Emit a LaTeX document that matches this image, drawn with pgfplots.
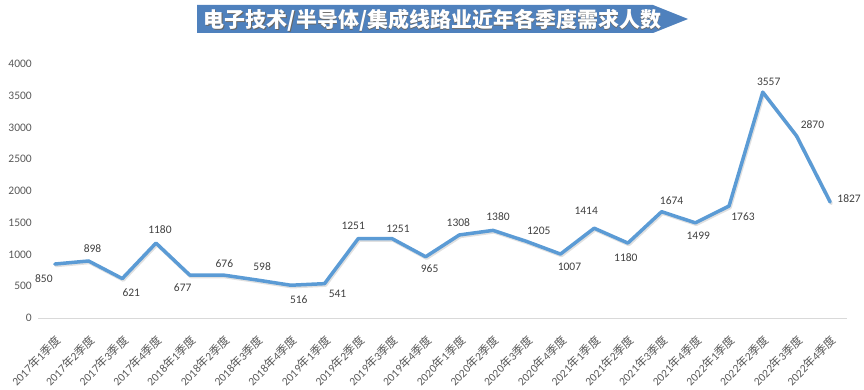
\documentclass[border=0pt]{standalone}
\usepackage{fontspec}
\setmainfont{Carlito}
\newfontfamily\cjk{Noto Sans CJK SC}
\usepackage{pgfplots}
\pgfplotsset{compat=1.18}
\usepackage{pgfplotstable}

\definecolor{lineblue}{HTML}{5B9BD5}
\definecolor{bannerblue}{HTML}{4F81BD}
\definecolor{ticktext}{HTML}{595959}
\definecolor{lbltext}{HTML}{404040}
\definecolor{axisgrey}{HTML}{D9D9D9}

\newcommand\q[2]{#1{\cjk 年}#2{\cjk 季度}}

\pgfplotstableread{
x y dx dy
0 850 -11 -15
1 898 4 12
2 621 9 -14
3 1180 4 13
4 677 -7 -13
5 676 1 11
6 598 5 13
7 516 8 -14
8 541 13 -10
9 1251 -5 13
10 1251 6 10
11 965 4 -12
12 1308 -1 12
13 1380 5 14
14 1205 12 11
15 1007 9 -13
16 1414 -8 17
17 1180 -2 -15
18 1674 10 11
19 1499 3 -13
20 1763 14 -11
21 3557 6 10
22 2870 16 11
23 1827 19 3
}\datatable

\pgfplotsset{/pgf/number format/1000 sep={}, /pgf/number format/assume math mode=true}

\begin{document}
\begin{tikzpicture}
\useasboundingbox (0,0) rectangle (864pt,389pt);
% title banner
\fill[bannerblue] (197pt,384pt) -- (653pt,384pt) -- (688pt,370pt) -- (653pt,356pt) -- (197pt,356pt) -- cycle;
\node[text=black!60, font=\cjk\bfseries\fontsize{21}{23}\selectfont, inner sep=0pt] at (433.3pt,368.2pt) {电子技术/半导体/集成线路业近年各季度需求人数};
\node[text=white, font=\cjk\bfseries\fontsize{21}{23}\selectfont, inner sep=0pt] at (432.5pt,369pt) {电子技术/半导体/集成线路业近年各季度需求人数};

\begin{axis}[
  at={(38pt,71pt)}, anchor=south west, scale only axis,
  width=809pt, height=254pt,
  xmin=-0.5, xmax=23.5, ymin=0, ymax=4000,
  axis lines*=left,
  y axis line style={draw=none},
  x axis line style={draw=axisgrey, line width=1pt},
  major tick length=0pt,
  ytick={0,500,...,4000},
  xtick={0,...,23},
  xticklabels={\q{2017}{1},\q{2017}{2},\q{2017}{3},\q{2017}{4},
    \q{2018}{1},\q{2018}{2},\q{2018}{3},\q{2018}{4},
    \q{2019}{1},\q{2019}{2},\q{2019}{3},\q{2019}{4},
    \q{2020}{1},\q{2020}{2},\q{2020}{3},\q{2020}{4},
    \q{2021}{1},\q{2021}{2},\q{2021}{3},\q{2021}{4},
    \q{2022}{1},\q{2022}{2},\q{2022}{3},\q{2022}{4}},
  yticklabel style={font=\fontsize{11.5}{12}\selectfont, text=ticktext, inner sep=0pt, xshift=-6pt},
  xticklabel style={font=\fontsize{11.5}{12}\selectfont, text=ticktext, inner sep=0pt, xshift=4pt, yshift=-20pt, rotate=45, anchor=east},
  clip=false,
]
\addplot[black!35, opacity=0.35, line width=3.5pt, line join=round, line cap=round,
  transform canvas={xshift=1pt, yshift=-1.5pt}] table[x=x, y=y] {\datatable};
\addplot[lineblue, line width=3.5pt, line join=round, line cap=round,
  nodes near coords,
  point meta=\thisrow{y},
  visualization depends on={\thisrow{dx} \as \dx},
  visualization depends on={\thisrow{dy} \as \dy},
  every node near coord/.append style={anchor=center, xshift=\dx pt, yshift=\dy pt,
     font=\fontsize{11.5}{12}\selectfont, text=lbltext, inner sep=0pt},
] table[x=x, y=y] {\datatable};
\end{axis}
\end{tikzpicture}
\end{document}
